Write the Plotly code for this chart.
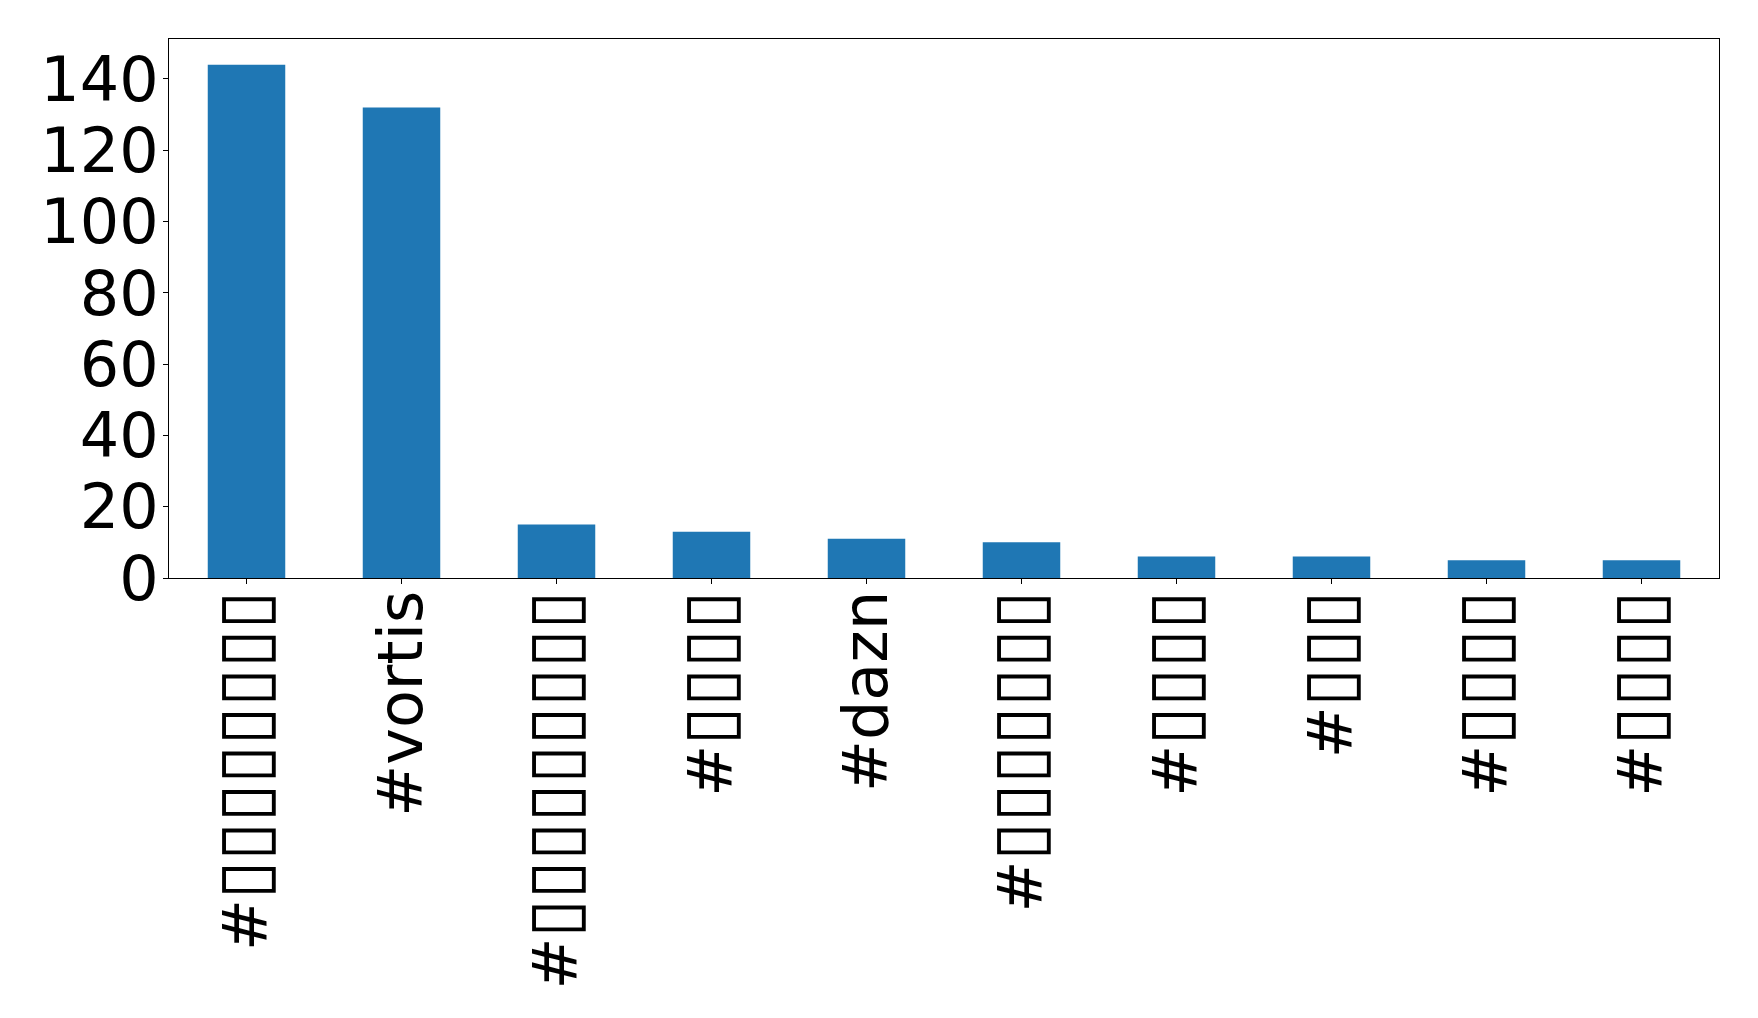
import plotly.graph_objects as go

categories = [
    "#▯▯▯▯▯▯▯▯",
    "#vortis",
    "#▯▯▯▯▯▯▯▯▯",
    "#▯▯▯▯",
    "#dazn",
    "#▯▯▯▯▯▯▯",
    "#▯▯▯▯",
    "#▯▯▯",
    "#▯▯▯▯",
    "#▯▯▯▯",
]
counts = [144, 132, 15, 13, 11, 10, 6, 6, 5, 5]
y_ticks = [0, 20, 40, 60, 80, 100, 120, 140]


def render_label(label):
    # missing-glyph boxes drawn slightly larger than the body text
    out = []
    for ch in label:
        if ch == "▯":
            out.append('<span style="font-size:70px">▯</span>')
        else:
            out.append(ch)
    return "".join(out)


fig = go.Figure(
    go.Bar(
        x=list(range(len(categories))),
        y=counts,
        width=0.5,
        marker=dict(color="#1f77b4", line=dict(width=0)),
    )
)

font = dict(family="DejaVu Sans", size=62, color="black")

fig.update_layout(
    width=1750,
    height=1010,
    margin=dict(l=161, r=39, t=31, b=440, autoexpand=False),
    paper_bgcolor="white",
    plot_bgcolor="white",
    showlegend=False,
    font=font,
    xaxis=dict(
        range=[-0.5, len(categories) - 0.5],
        tickmode="array",
        tickvals=list(range(len(categories))),
        ticktext=[render_label(c) for c in categories],
        tickangle=-90,
        ticks="outside",
        ticklen=5,
        tickwidth=1,
        tickcolor="black",
        ticklabelstandoff=-18,
        showline=True,
        linecolor="black",
        linewidth=1,
        mirror=True,
        showgrid=False,
        zeroline=False,
        automargin=False,
        tickfont=font,
    ),
    yaxis=dict(
        range=[0, 151.2],
        tickmode="array",
        tickvals=y_ticks,
        ticktext=[str(v) for v in y_ticks],
        ticks="outside",
        ticklen=5,
        tickwidth=1,
        tickcolor="black",
        ticklabelstandoff=-8,
        showline=True,
        linecolor="black",
        linewidth=1,
        mirror=True,
        showgrid=False,
        zeroline=False,
        automargin=False,
        tickfont=font,
    ),
)

fig.write_html("out.html")
